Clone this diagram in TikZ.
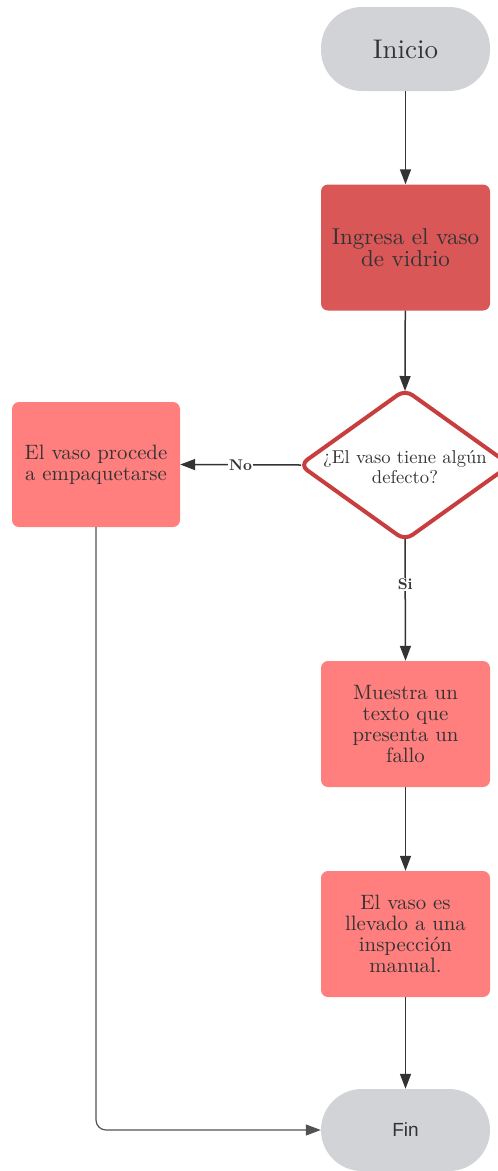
\documentclass[tikz,border=0pt]{standalone}
\usepackage{fontspec}
\setmainfont{lmroman10-regular.otf}[BoldFont=lmroman10-bold.otf]
\newfontfamily\finfont{Liberation Sans}
\usetikzlibrary{arrows.meta,shapes.geometric}
\definecolor{txt}{HTML}{333333}
\definecolor{edgec}{HTML}{333333}
\definecolor{termfill}{HTML}{D1D3D6}
\definecolor{darkred}{HTML}{D95757}
\definecolor{lightred}{HTML}{FF7F7F}
\definecolor{diamc}{HTML}{C83E3E}
\tikzset{
  term/.style={rounded corners=41pt, fill=termfill, minimum width=169pt, minimum height=84pt, text=txt, inner sep=0pt},
  procbox/.style={rounded corners=7pt, minimum width=169pt, minimum height=126pt, text=txt, align=center, inner sep=0pt,
     font=\fontsize{20.8pt}{21pt}\selectfont},
  flow/.style={draw=edgec, line width=1.5pt, -{Triangle[length=15pt,width=11pt]}},
  lbl/.style={fill=white, text=edgec, inner sep=1pt, font=\fontsize{15.5pt}{16pt}\selectfont\bfseries},
}
\begin{document}
\begin{tikzpicture}[x=1pt,y=-1pt]
\useasboundingbox (0,0) rectangle (498,1171);
\node[term, font=\fontsize{27pt}{28pt}\selectfont] (ini) at (405.5,49) {Inicio};
\node[procbox, fill=darkred, font=\fontsize{23pt}{22pt}\selectfont] (ing) at (405.5,247.5) {Ingresa el vaso\\de vidrio};
\node[diamond, draw=diamc, line width=4pt, fill=white, rounded corners=9pt, minimum width=212pt, minimum height=152pt, inner sep=0pt] (dec) at (405,465) {};
\node[text=txt, align=center, font=\fontsize{18.6pt}{20pt}\selectfont, inner sep=0pt] (dect) at (405,467) {¿El vaso tiene algún\\defecto?};
\node[procbox, fill=lightred, minimum width=168pt, minimum height=125pt] (emp) at (96,464.5) {El vaso procede\\a empaquetarse};
\node[procbox, fill=lightred] (mue) at (405.5,724) {Muestra un\\texto que\\presenta un\\fallo};
\node[procbox, fill=lightred] (lle) at (405.5,934) {El vaso es\\llevado a una\\inspección\\manual.};
\node[term, font=\finfont\fontsize{19pt}{20pt}\selectfont, minimum height=82pt] (fin) at (405.5,1130) {Fin};

\draw[flow] (ini) -- (ing);
\draw[flow] (ing) -- ([yshift=-4pt]dec.north);
\draw[flow] ([xshift=4pt]dec.west) -- node[lbl] {No} (emp.east);
\draw[flow] ([yshift=4pt]dec.south) -- node[lbl, pos=0.37] {Si} (mue.north);
\draw[flow] (mue) -- (lle);
\draw[flow] (lle) -- (fin);
\draw[draw=edgec!85, line width=1.2pt, rounded corners=10pt, -{Triangle[length=15pt,width=11pt]}] (emp.south) |- (fin.west);
\end{tikzpicture}
\end{document}
